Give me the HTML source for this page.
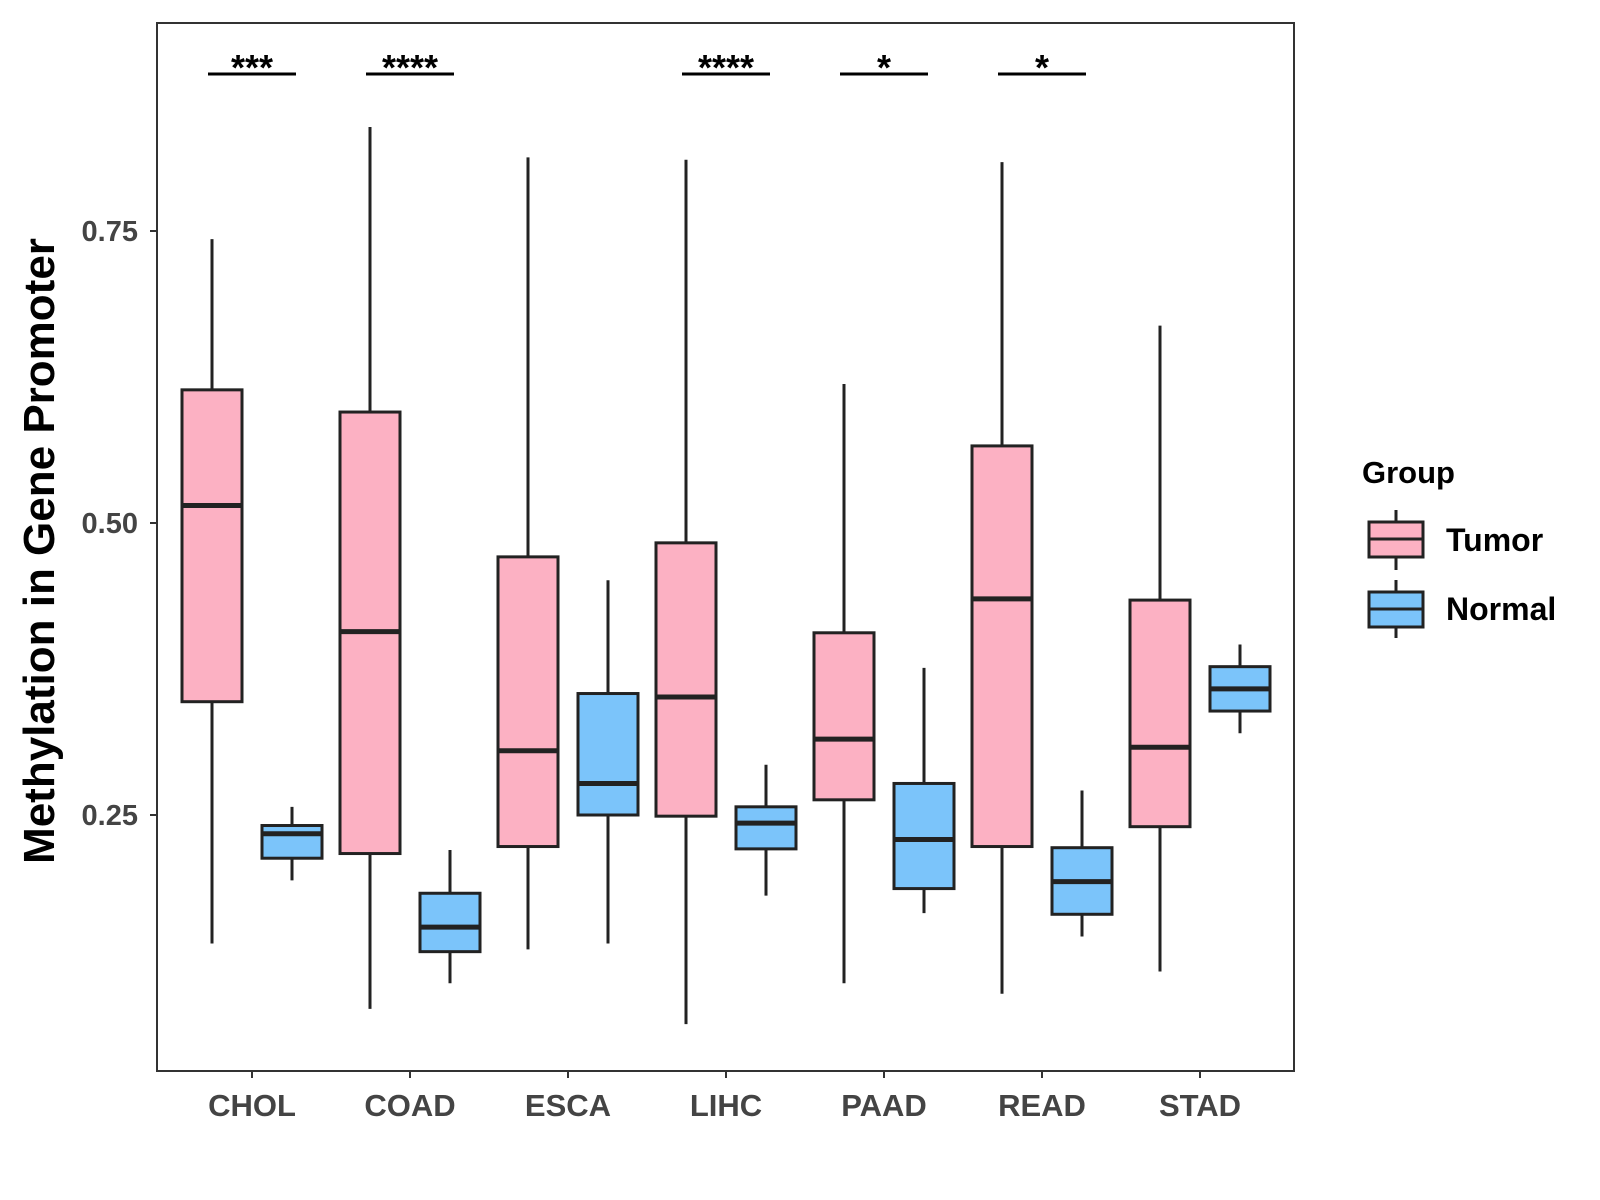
<!DOCTYPE html>
<html><head><meta charset="utf-8"><style>body{margin:0;background:#fff}svg{display:block}text{font-family:"Liberation Sans",Arial,sans-serif;font-weight:bold}</style></head>
<body>
<svg id="chart" width="1600" height="1200" xmlns="http://www.w3.org/2000/svg">
<rect x="157" y="23" width="1137" height="1048" fill="#fff" stroke="#333" stroke-width="2"/>
<g id="marks"></g>
<text x="0" y="0" transform="translate(54,551) rotate(-90)" text-anchor="middle" font-size="44" fill="#000">Methylation in Gene Promoter</text>
<g>
<text x="1362" y="483" font-size="31" fill="#000">Group</text>
<g>
<line x1="1396" y1="510" x2="1396" y2="570" stroke="#222" stroke-width="3"/>
<rect x="1369" y="522" width="54" height="35" fill="#fcb1c3" stroke="#222" stroke-width="3"/>
<line x1="1369" y1="539" x2="1423" y2="539" stroke="#222" stroke-width="3"/>
<text x="1446" y="551" font-size="32" fill="#000">Tumor</text></g>
<g>
<line x1="1396" y1="580" x2="1396" y2="638" stroke="#222" stroke-width="3"/>
<rect x="1369" y="592" width="54" height="35" fill="#7bc4fa" stroke="#222" stroke-width="3"/>
<line x1="1369" y1="609" x2="1423" y2="609" stroke="#222" stroke-width="3"/>
<text x="1446" y="620" font-size="32" fill="#000">Normal</text></g>
</g>
</svg>
<script>
const categories=["CHOL","COAD","ESCA","LIHC","PAAD","READ","STAD"];
const tumorStats=[[0.140,0.347,0.515,0.614,0.743],[0.084,0.217,0.407,0.595,0.839],[0.135,0.223,0.305,0.471,0.813],[0.071,0.249,0.351,0.483,0.811],[0.106,0.263,0.315,0.406,0.619],[0.097,0.223,0.435,0.566,0.809],[0.116,0.240,0.308,0.434,0.669]];
const normalStats=[[0.194,0.213,0.234,0.241,0.257],[0.106,0.133,0.154,0.183,0.220],[0.140,0.250,0.277,0.354,0.451],[0.181,0.221,0.243,0.257,0.293],[0.166,0.187,0.229,0.277,0.376],[0.146,0.165,0.193,0.222,0.271],[0.320,0.339,0.358,0.377,0.396]];
const significance=["***","****","","****","*","*",""];
const yTicks=[0.25,0.50,0.75];
const yTickLabels=["0.25","0.50","0.75"];
const NS="http://www.w3.org/2000/svg";
const g=document.getElementById('marks');
function y(v){return 523-(v-0.5)*1168;}
function x(i){return 252+i*158;}
function mk(t,a,p){const e=document.createElementNS(NS,t);for(const k in a)e.setAttribute(k,a[k]);(p||g).appendChild(e);return e;}
yTicks.forEach((t,i)=>{
 const l=mk('line',{x1:150,x2:157,y1:y(t),y2:y(t),stroke:'#333','stroke-width':2});
 
 
 const tx=mk('text',{x:138,y:y(t)+10,'text-anchor':'end','font-size':29,fill:'#444'});
 tx.textContent=yTickLabels[i];
 
 
});
function box(cx,s,fill,name){
 const grp=mk('g',{});
 
 
 mk('line',{x1:cx,x2:cx,y1:y(s[0]),y2:y(s[4]),stroke:'#222','stroke-width':3},grp);
 mk('rect',{x:cx-30,y:y(s[3]),width:60,height:y(s[1])-y(s[3]),fill:fill,stroke:'#222','stroke-width':3},grp);
 mk('line',{x1:cx-30,x2:cx+30,y1:y(s[2]),y2:y(s[2]),stroke:'#222','stroke-width':5},grp);
}
categories.forEach((c,i)=>{
 box(x(i)-40,tumorStats[i],'#fcb1c3','box-tumor-'+c.toLowerCase());
 box(x(i)+40,normalStats[i],'#7bc4fa','box-normal-'+c.toLowerCase());
 const tk=mk('line',{x1:x(i),x2:x(i),y1:1071,y2:1078,stroke:'#333','stroke-width':2});
 
 
 const lb=mk('text',{x:x(i),y:1116,'text-anchor':'middle','font-size':31,fill:'#444'});
 lb.textContent=c;
 
 
 if(significance[i]){
  const b=mk('line',{x1:x(i)-44,x2:x(i)+44,y1:74,y2:74,stroke:'#000','stroke-width':3});
  
  
  const st=mk('text',{x:x(i),y:80,'text-anchor':'middle','font-size':36,fill:'#000'});
  st.textContent=significance[i];
  
  
 }
});
</script>
</body></html>
